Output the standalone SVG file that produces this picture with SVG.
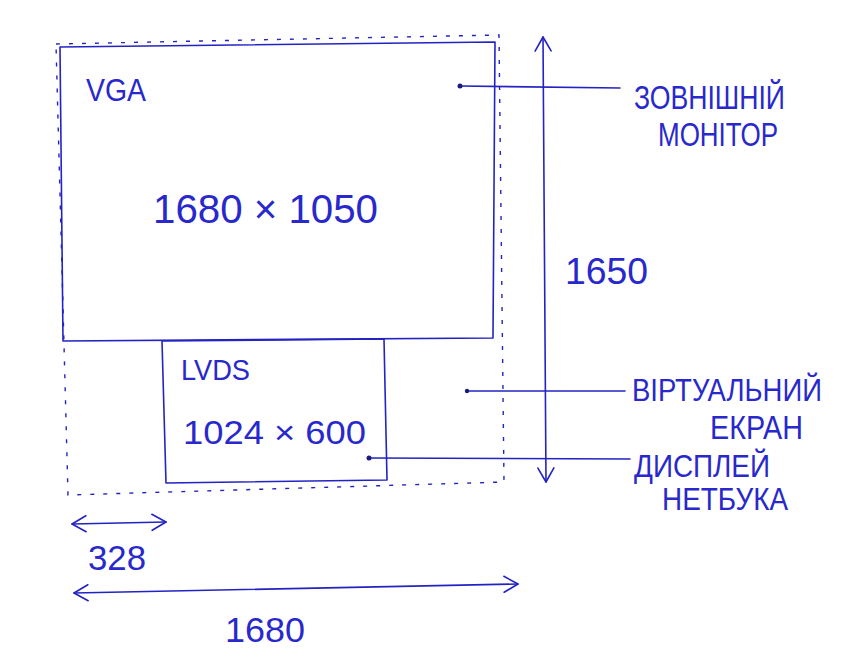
<svg xmlns="http://www.w3.org/2000/svg" width="860" height="662" viewBox="0 0 860 662">
<style>
.ln{fill:none;stroke:#2323c4;stroke-width:1.6;stroke-linecap:round;stroke-linejoin:round}
.dash{fill:none;stroke:#2323c4;stroke-width:1.4;stroke-dasharray:4 9}
.t{font-family:"Liberation Sans",Arial,sans-serif;fill:#2828cc;font-weight:normal}
.dot{fill:#1a1a80}
</style>
<defs>
<marker id="ah" viewBox="0 0 20 20" refX="18" refY="10" markerWidth="20" markerHeight="20" markerUnits="userSpaceOnUse" orient="auto-start-reverse">
<path d="M4 2 L18 10 L4 18" fill="none" stroke="#2323c4" stroke-width="1.6" stroke-linecap="round" stroke-linejoin="round"/>
</marker>
</defs>
<rect width="860" height="662" fill="#ffffff"/>
<g id="virtual">
<path class="dash" d="M56 44 L250 40 L499 35 L504 482 L68 495 Z"/>
</g>
<g id="vga">
<path class="ln" d="M60 47 L495 42 L493 338 L63 341 Z"/>
<text class="t" x="86" y="101" font-size="32" textLength="60" lengthAdjust="spacingAndGlyphs">VGA</text>
<text class="t" x="153" y="223" font-size="40" textLength="225" lengthAdjust="spacingAndGlyphs">1680 × 1050</text>
</g>
<g id="lvds">
<path class="ln" d="M162 341 L384 339 L387 480 L166 483 Z"/>
<text class="t" x="181" y="380" font-size="30" textLength="69" lengthAdjust="spacingAndGlyphs">LVDS</text>
<text class="t" x="183" y="444" font-size="34" textLength="183" lengthAdjust="spacingAndGlyphs">1024 × 600</text>
</g>
<g id="labels">
<text class="t" x="634" y="109" font-size="34" textLength="151" lengthAdjust="spacingAndGlyphs">ЗОВНІШНІЙ</text>
<text class="t" x="658" y="146" font-size="33" textLength="120" lengthAdjust="spacingAndGlyphs">МОНІТОР</text>
<text class="t" x="565" y="284" font-size="37" textLength="83" lengthAdjust="spacingAndGlyphs">1650</text>
<text class="t" x="632" y="401" font-size="32" textLength="190" lengthAdjust="spacingAndGlyphs">ВІРТУАЛЬНИЙ</text>
<text class="t" x="710" y="439" font-size="34" textLength="93" lengthAdjust="spacingAndGlyphs">ЕКРАН</text>
<text class="t" x="634" y="477" font-size="32" textLength="136" lengthAdjust="spacingAndGlyphs">ДИСПЛЕЙ</text>
<text class="t" x="662" y="510" font-size="31" textLength="126" lengthAdjust="spacingAndGlyphs">НЕТБУКА</text>
<text class="t" x="88" y="570" font-size="35" textLength="58" lengthAdjust="spacingAndGlyphs">328</text>
<text class="t" x="225" y="642" font-size="35" textLength="80" lengthAdjust="spacingAndGlyphs">1680</text>
</g>
<g id="connectors">
<path class="ln" d="M460 86 L620 88"/>
<circle class="dot" cx="460" cy="86" r="2.5"/>
<path class="ln" d="M467 391 L625 391"/>
<circle class="dot" cx="467" cy="391" r="2.2"/>
<path class="ln" d="M369 458 L630 459"/>
<circle class="dot" cx="369" cy="458" r="2.5"/>
<path class="ln" d="M543 37 L546 482" marker-start="url(#ah)" marker-end="url(#ah)"/>
<path class="ln" d="M72 524 L166 522" marker-start="url(#ah)" marker-end="url(#ah)"/>
<path class="ln" d="M74 593 L518 584" marker-start="url(#ah)" marker-end="url(#ah)"/>
</g>
</svg>
